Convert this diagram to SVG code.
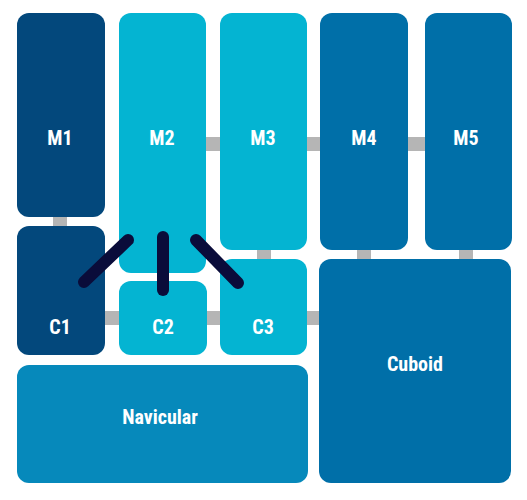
<svg xmlns="http://www.w3.org/2000/svg" width="527" height="500" viewBox="0 0 527 500">
<style>
.lbl{font-family:"Roboto Condensed","Liberation Sans Narrow","Roboto","Liberation Sans",sans-serif;font-weight:bold;font-size:20px;fill:#ffffff;text-anchor:middle;font-stretch:condensed}
.navy{fill:#03487c}
.cyan{fill:#04b4d2}
.blue{fill:#006fa8}
.mid{fill:#0689bb}
.j{fill:#b5b5b5}
.lig{stroke:#0a0c3a;stroke-width:12;stroke-linecap:round;fill:none}
</style>
<rect width="527" height="500" fill="#ffffff"/>
<g id="connectors">
<rect class="j" x="53" y="215" width="14" height="13"/>
<rect class="j" x="204" y="137" width="18" height="14"/>
<rect class="j" x="305" y="137" width="17" height="14"/>
<rect class="j" x="406" y="137" width="21" height="14"/>
<rect class="j" x="257" y="248" width="14" height="13"/>
<rect class="j" x="357" y="248" width="14" height="13"/>
<rect class="j" x="459" y="248" width="14" height="13"/>
<rect class="j" x="103" y="311" width="18" height="14"/>
<rect class="j" x="205" y="311" width="17" height="14"/>
<rect class="j" x="305" y="311" width="16" height="14"/>
</g>
<g id="M1"><rect class="navy" x="17" y="13" width="88" height="204" rx="12"/><text class="lbl" x="60" y="145">M1</text></g>
<g id="M2"><rect class="cyan" x="119" y="13" width="87" height="260" rx="12"/><text class="lbl" x="162" y="145">M2</text></g>
<g id="M3"><rect class="cyan" x="220" y="13" width="87" height="237" rx="12"/><text class="lbl" x="263" y="145">M3</text></g>
<g id="M4"><rect class="blue" x="320" y="13" width="88" height="237" rx="12"/><text class="lbl" x="364" y="145">M4</text></g>
<g id="M5"><rect class="blue" x="425" y="13" width="87" height="237" rx="12"/><text class="lbl" x="466" y="145">M5</text></g>
<g id="C1"><rect class="navy" x="17" y="226" width="88" height="129" rx="12"/><text class="lbl" x="60" y="334">C1</text></g>
<g id="C2"><rect class="cyan" x="119" y="281" width="88" height="74" rx="12"/><text class="lbl" x="163" y="334">C2</text></g>
<g id="C3"><rect class="cyan" x="220" y="259" width="87" height="96" rx="12"/><text class="lbl" x="263" y="334">C3</text></g>
<g id="Navicular"><rect class="mid" x="17" y="365" width="291" height="118" rx="12"/><text class="lbl" x="160" y="424">Navicular</text></g>
<g id="Cuboid"><rect class="blue" x="319" y="259" width="192" height="224" rx="12"/><text class="lbl" x="415" y="371">Cuboid</text></g>
<g id="ligaments">
<line class="lig" x1="128" y1="240" x2="84" y2="282"/>
<line class="lig" x1="163" y1="237" x2="163" y2="290"/>
<line class="lig" x1="196" y1="240" x2="238" y2="283"/>
</g>
</svg>
